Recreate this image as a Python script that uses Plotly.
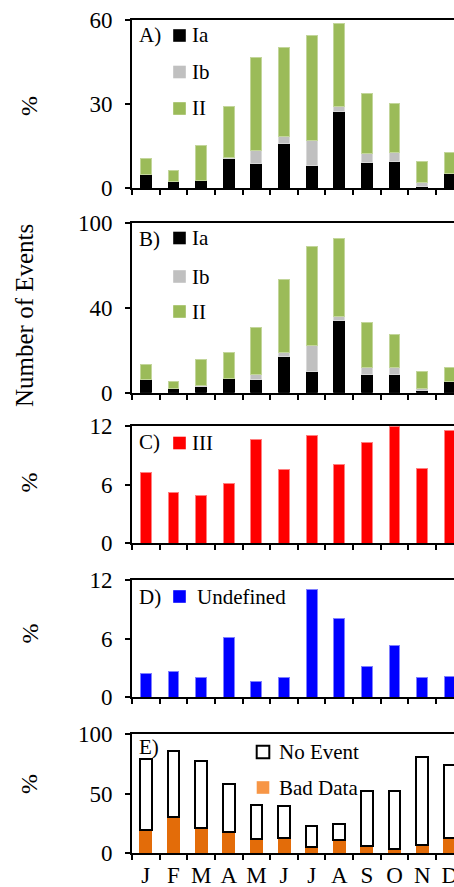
import plotly.graph_objects as go

# ---------------- data ----------------
months = ["Jan", "Feb", "Mar", "Apr", "May", "Jun",
          "Jul", "Aug", "Sep", "Oct", "Nov", "Dec"]
month_letters = ["J", "F", "M", "A", "M", "J", "J", "A", "S", "O", "N", "D"]

# A) percentage of events by class
pct_ia = [4.9, 2.4, 2.7, 10.6, 8.9, 16.0, 8.0, 27.3, 9.3, 9.7, 0.8, 5.2]
pct_ib = [0.0, 0.0, 0.0, 0.3, 4.4, 2.3, 9.2, 1.8, 3.2, 3.1, 1.1, 0.0]
pct_ii = [5.7, 4.0, 12.6, 18.1, 33.5, 32.0, 37.2, 29.7, 21.4, 17.3, 7.7, 7.5]

# B) number of events by class
num_ia = [7.5, 2.5, 3.5, 8.6, 7.5, 21.2, 12.5, 42.4, 11.0, 11.0, 1.2, 6.3]
num_ib = [0.0, 0.0, 0.6, 0.0, 3.5, 2.7, 15.0, 2.5, 4.1, 4.1, 1.3, 0.0]
num_ii = [8.8, 4.0, 15.7, 15.3, 27.6, 42.4, 58.4, 46.1, 26.3, 19.4, 10.0, 8.6]

# C) class III, D) undefined
pct_iii = [7.27, 5.23, 4.83, 6.12, 10.6, 7.58, 11.0, 8.09, 10.33, 11.9, 7.68, 11.56]
pct_undef = [2.43, 2.63, 1.95, 6.15, 1.54, 1.95, 11.04, 8.10, 3.11, 5.33, 1.95, 2.15]

# E) bad data and days without event
pct_bad = [19.2, 30.1, 21.4, 18.0, 11.5, 13.0, 5.1, 11.3, 5.6, 3.4, 6.5, 13.0]
pct_none = [60.2, 55.5, 56.3, 40.0, 29.1, 26.7, 18.0, 13.5, 46.8, 49.0, 74.3, 60.8]

# y tick marks per panel
ticks_a = [0, 30, 60]
ticks_b = [0, 50, 100]
ticks_b_text = ["0", "40", "100"]
ticks_c = [0, 6, 12]
ticks_d = [0, 6, 12]
ticks_e = [0, 50, 100]

# ---------------- layout geometry ----------------
W, H = 454, 887
ML, MR, MT, MB = 132, 0, 20, 34
PW, PH = W - ML - MR, H - MT - MB


def py(y):
    """pixel row -> paper y"""
    return (H - MB - y) / PH


def px(x):
    """pixel column -> paper x"""
    return (x - ML) / PW


def dom(top, bottom):
    return [max(0.0, py(bottom)), min(1.0, py(top))]


panels = [(20, 188.3), (222.7, 392.7), (425.7, 543.3), (580, 697), (734.3, 853)]

SERIF = "Liberation Serif, Times New Roman, serif"
GREEN, GREY, RED, BLUE = "#9BBB59", "#C0C0C0", "#FF0000", "#0000FF"
ORANGE, ORANGE_LEG = "#E36C09", "#F79646"

fig = go.Figure()

bw = 0.39


def add_bar(y, color, xa, ya, edge=None, width=bw, lw=1):
    fig.add_trace(go.Bar(
        x=months, y=y, xaxis=xa, yaxis=ya, width=width,
        marker=dict(color=color, line=dict(color=edge or color, width=lw)),
        showlegend=False, hoverinfo="skip"))


add_bar(pct_ia, "#000000", "x", "y")
add_bar(pct_ib, GREY, "x", "y", edge="#D9D9D9")
add_bar(pct_ii, GREEN, "x", "y", edge="#C3D69B")

add_bar(num_ia, "#000000", "x2", "y2")
add_bar(num_ib, GREY, "x2", "y2", edge="#D9D9D9")
add_bar(num_ii, GREEN, "x2", "y2", edge="#C3D69B")

add_bar(pct_iii, RED, "x3", "y3", edge="#FF8080")
add_bar(pct_undef, BLUE, "x4", "y4", edge="#8080FF")

add_bar(pct_bad, ORANGE, "x5", "y5", width=0.47, lw=0)
add_bar(pct_none, "#FFFFFF", "x5", "y5", edge="#000000", width=0.42, lw=2)

yticks = [(ticks_a, None, 60), (ticks_b, ticks_b_text, 100), (ticks_c, None, 12),
          (ticks_d, None, 12), (ticks_e, None, 100)]

layout = dict(
    width=W, height=H, margin=dict(l=ML, r=MR, t=MT, b=MB),
    barmode="stack", plot_bgcolor="white", paper_bgcolor="white",
    font=dict(family=SERIF, color="black", size=22),
    showlegend=False,
)

for i, ((top, bottom), (tv, tt, ymax)) in enumerate(zip(panels, yticks)):
    n = "" if i == 0 else str(i + 1)
    last = i == 4
    layout["xaxis" + n] = dict(
        domain=[0, 1], anchor="y" + n, type="category",
        categoryorder="array", categoryarray=months,
        range=[-0.5, 11.15], tickson="boundaries",
        tickmode="array", tickvals=months, ticktext=month_letters,
        showticklabels=last, ticks="outside", ticklen=5, tickwidth=2,
        tickcolor="black", showline=True, linewidth=2, linecolor="black",
        mirror=True, showgrid=False, zeroline=False, automargin=False,
        tickangle=0, tickfont=dict(size=23, family=SERIF), ticklabelstandoff=0,
        fixedrange=True,
    )
    ya = dict(
        domain=dom(top, bottom), anchor="x" + n, range=[0, ymax],
        tickmode="array", tickvals=tv, ticks="outside", ticklen=5, tickwidth=2,
        tickcolor="black", showline=True, linewidth=2, linecolor="black",
        showgrid=False, zeroline=False, automargin=False,
        tickfont=dict(size=23, family=SERIF), ticklabelstandoff=8,
        fixedrange=True,
    )
    if tt is not None:
        ya["ticktext"] = tt
    layout["yaxis" + n] = ya

fig.update_layout(**layout)

# ---------------- axis titles ----------------
for text, yc, size in [("%", 106, 24), ("Number of Events", 315, 25), ("%", 482.5, 24),
                       ("%", 633.5, 24), ("%", 784, 24)]:
    fig.add_annotation(text=text, xref="paper", yref="paper", x=px(24 if text != "%" else 29),
                       y=py(yc), textangle=-90, showarrow=False,
                       font=dict(size=size, family=SERIF), xanchor="center", yanchor="middle")

# ---------------- panel letters ----------------
for text, yc in [("A)", 35.5), ("B)", 239), ("C)", 442), ("D)", 597), ("E)", 746.5)]:
    fig.add_annotation(text=text, xref="paper", yref="paper", x=px(137), y=py(yc),
                       showarrow=False, xanchor="left", yanchor="middle",
                       font=dict(size=21, family=SERIF))

# ---------------- in-panel legends ----------------
SQ = 12.6


def legend_item(label, xc, yc, fill, line=None, tx=None):
    fig.add_shape(type="rect", xref="paper", yref="paper",
                  x0=px(xc - SQ / 2), x1=px(xc + SQ / 2),
                  y0=py(yc + SQ / 2), y1=py(yc - SQ / 2),
                  fillcolor=fill,
                  line=dict(color=line or fill, width=2 if line else 0))
    fig.add_annotation(text=label, xref="paper", yref="paper",
                       x=px(tx if tx else xc + SQ / 2 + 4), y=py(yc),
                       showarrow=False, xanchor="left", yanchor="middle",
                       font=dict(size=21, family=SERIF))


legend_item("Ia", 179.5, 35.5, "#000000")
legend_item("Ib", 179.5, 72, GREY)
legend_item("II", 179.5, 108.5, GREEN)

legend_item("Ia", 179.5, 238, "#000000")
legend_item("Ib", 179.5, 276.5, GREY)
legend_item("II", 179.5, 311.5, GREEN)

legend_item("III", 179.5, 443, RED)
legend_item("Undefined", 179.5, 596.5, BLUE, tx=195)

legend_item("No Event", 263, 752, "#FFFFFF", line="#000000", tx=277)
legend_item("Bad Data", 263, 787.5, ORANGE_LEG, tx=277)

fig.write_html("out.html")
